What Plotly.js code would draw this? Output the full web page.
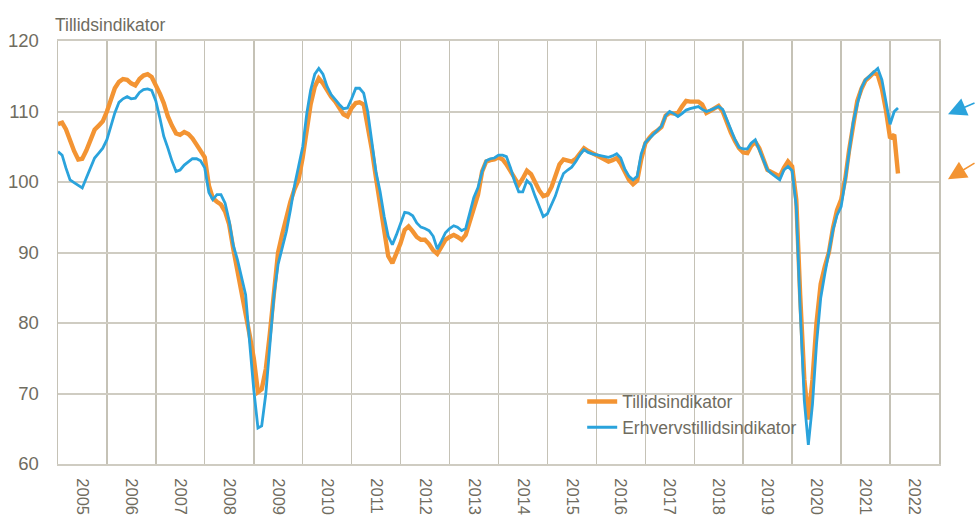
<!DOCTYPE html>
<html>
<head>
<meta charset="utf-8">
<script src="https://cdn.plot.ly/plotly-3.0.1.min.js"></script>
<style>html,body{margin:0;padding:0;background:#fff;}#chart{width:976px;height:516px;}</style>
</head>
<body>
<div id="chart"></div>
<script>
// Monthly values from January 2005
const startYear = 2005;
const yearLabels = ['2005','2006','2007','2008','2009','2010','2011','2012','2013','2014','2015','2016','2017','2018','2019','2020','2021','2022'];

const tillidsindikator = [
  108.2,108.4,107.5,105.8,104.4,103.2,103.3,104.5,105.8,107.4,108.0,108.6,
  110.0,111.8,113.3,114.2,114.6,114.5,114.0,113.7,114.6,115.1,115.3,114.9,
  113.8,112.5,111.2,109.3,108.0,106.9,106.7,107.1,106.8,106.2,105.3,104.4,
  103.5,99.5,97.7,97.2,96.8,95.8,94.0,90.5,87.5,84.7,81.8,78.3,
  75.0,70.2,70.6,73.5,78.5,85.0,90.0,92.6,95.0,97.2,99.0,100.3,
  103.5,107.0,111.0,113.5,114.7,114.0,113.0,112.1,111.4,110.6,109.6,109.3,
  110.5,111.2,111.3,111.0,108.1,104.6,100.7,97.0,93.0,89.5,88.5,89.8,
  91.3,93.2,93.7,93.0,92.2,91.8,91.8,91.2,90.3,89.8,90.8,91.8,
  92.2,92.5,92.2,91.8,92.5,94.5,96.5,98.2,101.5,102.9,103.1,103.2,
  103.5,103.2,102.5,101.5,100.5,99.6,100.5,101.6,101.1,99.9,98.8,98.0,
  98.2,99.3,100.8,102.5,103.2,103.0,102.9,103.3,104.1,104.8,104.4,104.1,
  103.8,103.5,103.1,102.9,103.1,103.4,102.6,101.5,100.3,99.7,100.2,103.2,
  105.5,106.3,106.9,107.3,107.8,109.4,109.8,109.7,109.8,110.7,111.5,111.4,
  111.4,111.4,111.0,109.8,110.1,110.4,110.8,110.0,108.4,107.0,105.8,104.8,
  104.2,104.1,105.1,105.7,104.8,103.0,101.7,101.4,101.0,100.8,102.0,102.9,
  102.2,97.5,84.0,72.0,66.3,72.0,80.0,85.5,88.0,90.0,93.5,96.0,
  97.5,100.5,104.5,108.0,111.5,113.2,114.4,114.9,115.5,115.2,113.2,110.2,
  106.2,106.7,101.2
];

const erhvervstillidsindikator = [
  104.3,103.8,102.0,100.3,99.9,99.5,99.15,100.6,102.1,103.4,104.1,104.8,
  106.0,107.9,109.8,111.3,111.8,112.1,111.8,111.9,112.7,113.1,113.2,113.0,
  111.5,109.0,106.5,104.8,103.0,101.5,101.7,102.4,102.9,103.3,103.3,103.0,
  102.0,98.5,97.5,98.2,98.2,97.0,94.5,91.0,89.0,86.5,84.0,77.2,
  70.5,65.1,65.4,70.0,77.0,84.0,88.3,90.8,93.0,96.0,99.5,102.2,
  105.0,109.8,113.0,115.3,116.1,115.3,113.6,112.4,111.6,111.0,110.4,110.5,
  111.8,113.3,113.3,112.6,110.0,106.0,101.5,98.7,95.1,92.3,91.1,92.5,
  94.0,95.7,95.6,95.2,94.2,93.6,93.4,93.1,92.3,90.5,91.6,92.8,
  93.4,93.8,93.6,93.1,93.4,95.8,97.8,99.2,101.5,103.0,103.3,103.4,
  103.8,103.8,103.6,102.0,100.1,98.6,98.6,100.2,99.6,98.0,96.5,95.1,
  95.5,96.8,98.0,99.8,101.2,101.7,102.1,102.9,103.9,104.6,104.2,104.0,
  103.9,103.8,103.7,103.5,103.7,104.0,103.4,101.8,100.8,100.3,100.8,104.0,
  105.6,106.2,106.7,107.3,107.9,109.4,110.0,109.7,109.3,109.7,110.2,110.4,
  110.5,110.7,110.3,110.0,110.2,110.4,110.7,110.3,108.8,107.4,106.0,104.9,
  104.7,104.7,105.5,106.0,104.6,103.0,101.7,101.2,100.7,100.3,101.7,102.2,
  101.6,96.5,82.0,69.0,62.7,68.5,77.0,83.5,87.0,89.8,93.2,95.3,
  96.5,100.3,104.5,108.5,111.0,113.3,114.5,115.0,115.6,116.1,114.5,111.6,
  108.2,110.0,110.5
];

const seriesNames = ['Tillidsindikator','Erhvervstillidsindikator'];
const axisTitle = 'Tillidsindikator';

function monthDates(n) {
  const out = [];
  for (let i = 0; i < n; i++) {
    const y = startYear + Math.floor(i / 12);
    const m = (i % 12) + 1;
    out.push(y + '-' + String(m).padStart(2, '0') + '-01');
  }
  return out;
}

const FONT = 'Liberation Sans, Arial, sans-serif';
const TXT = '#6f6c5f';
const ORANGE = '#F39433';
const BLUE = '#2AA3DC';

const traces = [
  {x: monthDates(tillidsindikator.length), y: tillidsindikator, name: seriesNames[0], type: 'scatter', mode: 'lines',
   line: {color: ORANGE, width: 4.4}},
  {x: monthDates(erhvervstillidsindikator.length), y: erhvervstillidsindikator, name: seriesNames[1], type: 'scatter', mode: 'lines',
   line: {color: BLUE, width: 2.8}}
];

const layout = {
  width: 976, height: 516,
  margin: {l: 58, r: 37, t: 41, b: 52},
  paper_bgcolor: '#ffffff', plot_bgcolor: '#ffffff',
  font: {family: FONT, size: 17, color: TXT},
  showlegend: true,
  legend: {x: 0.595, y: 0.19, xanchor: 'left', yanchor: 'top', bgcolor: 'rgba(0,0,0,0)',
           font: {family: FONT, size: 17.5, color: TXT}},
  title: {text: axisTitle, x: 55/976, xanchor: 'left', xref: 'container', y: 1 - 25/516, yanchor: 'middle', yref: 'container',
          font: {family: FONT, size: 17.5, color: TXT}},
  xaxis: {
    type: 'date',
    range: ['2005-01-01', '2023-01-01'],
    tick0: '2005-01-01', dtick: 'M12',
    ticklabelmode: 'period', tickformat: '%Y',
    tickangle: 90,
    ticks: '', ticklabelstandoff: 9,
    showgrid: true, gridcolor: '#c5c2b6', gridwidth: 1.5,
    showline: true, mirror: true, linecolor: '#cfccc2', linewidth: 2,
    zeroline: false,
    tickfont: {family: FONT, size: 16.5, color: TXT},
    fixedrange: true
  },
  yaxis: {
    range: [60, 120], dtick: 10, tick0: 60,
    ticks: '', ticklabelstandoff: 14,
    showgrid: true, gridcolor: '#cfccc2', gridwidth: 2,
    showline: true, mirror: true, linecolor: '#c5c2b6', linewidth: 1.5,
    zeroline: false,
    tickfont: {family: FONT, size: 18.5, color: TXT},
    fixedrange: true
  },
  shapes: [
    {type: 'line', xref: 'paper', x0: 0, x1: 1, yref: 'y', y0: 100, y1: 100, layer: 'below',
     line: {color: '#7b7969', width: 2}}
  ],
  annotations: [
    {xref: 'paper', yref: 'y', x: 1.0102, y: 109.6, text: '', showarrow: true,
     ax: 60, ay: -12, arrowhead: 2, arrowsize: 2.3, arrowwidth: 1.6, arrowcolor: BLUE, standoff: 0},
    {xref: 'paper', yref: 'y', x: 1.0102, y: 100.4, text: '', showarrow: true,
     ax: 60, ay: -17, arrowhead: 2, arrowsize: 2.3, arrowwidth: 1.6, arrowcolor: ORANGE, standoff: 0}
  ]
};

Plotly.newPlot('chart', traces, layout, {displayModeBar: false, staticPlot: true});
</script>
</body>
</html>
